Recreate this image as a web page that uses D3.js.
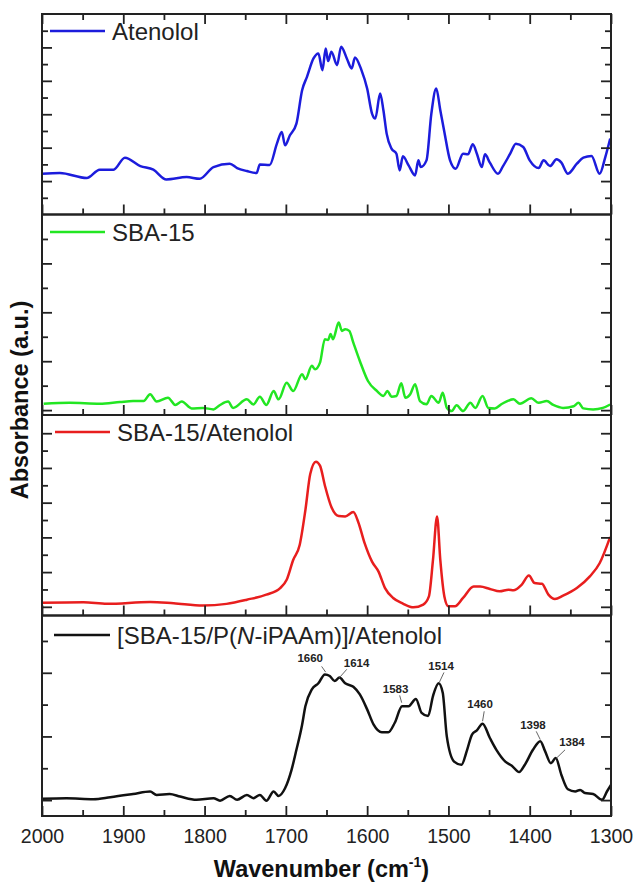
<!DOCTYPE html>
<html>
<head>
<meta charset="utf-8">
<script src="https://cdn.jsdelivr.net/npm/d3@7"></script>
<style>
  body { margin: 0; background: #fff; }
  svg { display: block; font-family: "Liberation Sans", Arial, sans-serif; }
</style>
</head>
<body>
<svg id="chart" width="634" height="883"></svg>
<script>
// spectra: [wavenumber (cm-1), absorbance in panel tick units]
const atenolol = [
  [2000, 2.44], [1978, 2.48], [1945, 2.18], [1929, 2.68], [1912, 2.68], [1898, 3.4],
  [1879, 2.9], [1863, 2.68], [1847, 2.1], [1822, 2.24], [1806, 2.14], [1789, 2.84],
  [1769, 3.04], [1760, 2.78], [1748, 2.6], [1736, 2.48], [1732, 3.0], [1720, 2.96],
  [1711, 4.24], [1705, 4.94], [1701, 4.14], [1695, 4.74], [1687, 5.44], [1680, 7.44],
  [1674, 8.24], [1666, 9.34], [1660, 9.64], [1655, 8.64], [1651, 9.94], [1648, 9.18],
  [1644, 9.74], [1637, 8.94], [1632, 10.04], [1625, 9.34], [1619, 8.74], [1615, 9.4],
  [1607, 8.64], [1600, 7.54], [1594, 6.04], [1590, 5.74], [1584, 7.24], [1580, 6.24],
  [1576, 4.84], [1570, 3.94], [1564, 3.64], [1560, 2.64], [1556, 3.48], [1549, 2.94],
  [1541, 2.34], [1537, 3.24], [1534, 2.84], [1527, 3.24], [1521, 6.04], [1515, 7.54],
  [1510, 6.24], [1505, 4.94], [1498, 3.24], [1491, 2.74], [1482, 3.64], [1476, 3.6],
  [1470, 4.2], [1465, 3.64], [1459, 2.84], [1455, 3.6], [1449, 3.1], [1439, 2.44],
  [1433, 2.88], [1424, 3.64], [1417, 4.24], [1408, 4.04], [1400, 3.24], [1389, 2.78],
  [1383, 3.24], [1375, 2.9], [1367, 3.3], [1361, 3.1], [1353, 2.44], [1342, 3.04],
  [1334, 3.4], [1324, 3.5], [1314, 2.44], [1307, 3.44], [1301, 4.54]
];

const sba15 = [
  [1998, 0.26], [1966, 0.3], [1929, 0.26], [1904, 0.33], [1888, 0.37], [1875, 0.37],
  [1867, 0.65], [1859, 0.35], [1845, 0.51], [1836, 0.21], [1828, 0.35], [1816, 0.07],
  [1802, 0.09], [1789, 0.03], [1781, 0.21], [1771, 0.35], [1765, 0.09], [1748, 0.44],
  [1740, 0.23], [1732, 0.55], [1724, 0.21], [1715, 0.78], [1709, 0.44], [1699, 1.12],
  [1691, 0.78], [1680, 1.47], [1676, 1.26], [1668, 1.81], [1664, 1.67], [1658, 1.94],
  [1652, 2.9], [1648, 2.87], [1645, 3.11], [1642, 2.9], [1635, 3.58], [1631, 3.24],
  [1627, 3.31], [1622, 3.24], [1617, 2.76], [1609, 2.01], [1599, 1.19], [1588, 0.78],
  [1580, 0.58], [1575, 0.78], [1570, 0.55], [1564, 0.58], [1558, 1.1], [1553, 0.51],
  [1547, 0.65], [1541, 1.06], [1535, 0.37], [1527, 0.24], [1521, 0.58], [1512, 0.3],
  [1507, 0.71], [1502, 0.1], [1496, -0.04], [1490, 0.2], [1482, -0.04], [1473, 0.3],
  [1467, 0.09], [1458, 0.58], [1451, 0.09], [1443, 0.07], [1434, 0.26], [1420, 0.44],
  [1412, 0.26], [1398, 0.48], [1389, 0.3], [1379, 0.37], [1371, 0.21], [1359, 0.09],
  [1346, 0.16], [1340, 0.3], [1334, 0.07], [1322, 0.03], [1310, 0.09], [1301, 0.23]
];

const sbaAtenolol = [
  [2000, 0.23], [1949, 0.26], [1920, 0.17], [1867, 0.28], [1838, 0.2], [1802, 0.07],
  [1773, 0.17], [1748, 0.41], [1724, 0.7], [1707, 1.08], [1699, 1.56], [1691, 2.7],
  [1683, 3.56], [1676, 5.56], [1670, 7.65], [1663, 8.36], [1658, 8.13], [1652, 6.99],
  [1644, 5.75], [1635, 5.23], [1627, 5.21], [1617, 5.46], [1611, 4.89], [1603, 3.65],
  [1594, 2.6], [1586, 2.03], [1578, 1.08], [1568, 0.51], [1556, 0.19], [1543, -0.03],
  [1531, 0.13], [1524, 0.6], [1519, 2.7], [1514, 5.21], [1510, 2.7], [1505, 0.6],
  [1500, 0.03], [1492, 0.03], [1482, 0.51], [1469, 1.17], [1461, 1.17], [1449, 1.03],
  [1437, 0.89], [1426, 0.99], [1420, 0.95], [1410, 1.27], [1401, 1.8], [1394, 1.37],
  [1385, 1.33], [1377, 0.7], [1369, 0.45], [1359, 0.64], [1342, 1.08], [1326, 1.75],
  [1314, 2.51], [1301, 4.03]
];

const sbaPolyAtenolol = [
  [2000, 0.04], [1970, 0.06], [1937, 0.03], [1916, 0.09], [1888, 0.19], [1867, 0.27],
  [1859, 0.16], [1843, 0.19], [1830, 0.11], [1810, 0.01], [1789, 0.06], [1781, -0.02],
  [1769, 0.13], [1760, 0.01], [1748, 0.16], [1740, 0.06], [1732, 0.16], [1724, -0.02],
  [1715, 0.27], [1709, 0.13], [1701, 0.37], [1693, 0.95], [1687, 1.58], [1680, 2.37],
  [1676, 2.95], [1668, 3.48], [1660, 3.67], [1652, 3.95], [1646, 3.9], [1640, 3.74],
  [1634, 3.85], [1627, 3.67], [1617, 3.56], [1609, 3.32], [1600, 2.85], [1592, 2.37],
  [1582, 2.13], [1574, 2.13], [1566, 2.43], [1557, 2.95], [1549, 2.95], [1540, 3.18],
  [1533, 2.74], [1525, 2.64], [1519, 3.27], [1512, 3.67], [1507, 3.37], [1502, 2.0],
  [1493, 1.21], [1484, 1.11], [1477, 1.58], [1471, 2.06], [1465, 2.19], [1458, 2.4],
  [1449, 1.95], [1441, 1.58], [1430, 1.21], [1422, 1.08], [1413, 0.88], [1406, 1.11],
  [1396, 1.58], [1387, 1.85], [1381, 1.53], [1374, 1.16], [1368, 1.32], [1361, 0.79],
  [1353, 0.34], [1344, 0.27], [1338, 0.32], [1332, 0.22], [1322, 0.19], [1311, 0.01],
  [1305, 0.27], [1300, 0.48]
];

const seriesNames = ["Atenolol", "SBA-15", "SBA-15/Atenolol", "[SBA-15/P(N-iPAAm)]/Atenolol"];
const seriesColors = ["#1c1cdc", "#22e622", "#e81e1e", "#111111"];

const xTicks = [2000, 1900, 1800, 1700, 1600, 1500, 1400, 1300];
const xMinorTicks = [1950, 1850, 1750, 1650, 1550, 1450, 1350];

// each panel has its own arbitrary absorbance scale
const yDomains = [[0, 12], [-0.2, 8], [-0.5, 11.05], [-0.5, 5.8]];
const yMajorTicks = [[2, 4, 6, 8, 10], [0, 2, 4, 6], [0, 2, 4, 6, 8, 10], [0, 2, 4]];
const yMinorTicks = [[1, 3, 5, 7, 9, 11], [1, 3, 5, 7], [1, 3, 5, 7, 9], [1, 3, 5]];

// peak labels in the bottom panel: text anchor and leader line, in data units
const peakLabels = ["1660", "1614", "1583", "1514", "1460", "1398", "1384"];
const peakLabelAt = [[1670, 4.33], [1613, 4.17], [1565, 3.35], [1509, 4.09], [1461, 2.88], [1396, 2.22], [1348, 1.69]];
const peakLeaders = [
  [[1656, 4.2], [1651, 4.02]],
  [[1625, 4.11], [1634, 3.85]],
  [[1560, 3.29], [1557.5, 3.06]],
  [[1505.5, 4.01], [1511, 3.71]],
  [[1456, 2.79], [1458, 2.48]],
  [[1392, 2.16], [1387, 1.9]],
  [[1356.5, 1.58], [1367, 1.32]]
];

const allSeries = [atenolol, sba15, sbaAtenolol, sbaPolyAtenolol];

const plotLeft = 42;
const plotRight = 611;
const plotTop = 14;
const panelH = 200.5;
const legendLine = [[50, 105, 17, 112], [50, 105, 17.5, 112], [55, 110, 17, 117], [54, 110, 19.5, 117]];

const svg = d3.select("#chart");

const x = d3.scaleLinear().domain([2000, 1300]).range([plotLeft, plotRight]);

const line = (y) =>
  d3
    .line()
    .curve(d3.curveMonotoneX)
    .x((d) => x(d[0]))
    .y((d) => y(d[1]));

svg
  .append("defs")
  .append("clipPath")
  .attr("id", "plot-clip")
  .append("rect")
  .attr("x", plotLeft)
  .attr("y", plotTop)
  .attr("width", plotRight - plotLeft)
  .attr("height", panelH * 4);

allSeries.forEach((data, i) => {
  const y0 = plotTop + i * panelH;
  const y1 = y0 + panelH;
  const y = d3.scaleLinear().domain(yDomains[i]).range([y1, y0]);
  const g = svg.append("g").attr("class", "panel");

  g.append("path")
    .datum(data)
    .attr("clip-path", "url(#plot-clip)")
    .attr("fill", "none")
    .attr("stroke", seriesColors[i])
    .attr("stroke-width", 2.5)
    .attr("stroke-linejoin", "round")
    .attr("d", line(y));

  // ticks all point inward
  const axes = [
    [d3.axisLeft(y), `translate(${plotLeft},0)`, yMajorTicks[i], -10],
    [d3.axisLeft(y), `translate(${plotLeft},0)`, yMinorTicks[i], -6],
    [d3.axisRight(y), `translate(${plotRight},0)`, yMajorTicks[i], -10],
    [d3.axisRight(y), `translate(${plotRight},0)`, yMinorTicks[i], -6],
    [d3.axisBottom(x), `translate(0,${y1})`, xTicks, -10],
    [d3.axisBottom(x), `translate(0,${y1})`, xMinorTicks, -6]
  ];
  if (i === 0) {
    axes.push([d3.axisTop(x), `translate(0,${y0})`, xTicks, -10]);
    axes.push([d3.axisTop(x), `translate(0,${y0})`, xMinorTicks, -6]);
  }
  axes.forEach(([axis, tr, values, size]) => {
    g.append("g")
      .attr("transform", tr)
      .call(axis.tickValues(values).tickSize(size).tickFormat(""))
      .call((a) => a.select(".domain").remove())
      .call((a) => a.selectAll(".tick line").attr("stroke", "#222").attr("stroke-width", 1.8));
  });

  g.append("rect")
    .attr("x", plotLeft)
    .attr("y", y0)
    .attr("width", plotRight - plotLeft)
    .attr("height", panelH)
    .attr("fill", "none")
    .attr("stroke", "#222")
    .attr("stroke-width", 2);

  // legend
  const [lx0, lx1, ly, tx] = legendLine[i];
  g.append("line")
    .attr("x1", lx0)
    .attr("x2", lx1)
    .attr("y1", y0 + ly)
    .attr("y2", y0 + ly)
    .attr("stroke", seriesColors[i])
    .attr("stroke-width", 2.5);

  const label = g
    .append("text")
    .attr("x", tx)
    .attr("y", y0 + ly + 8.5)
    .attr("font-size", 24)
    .attr("fill", "#222");

  if (i === 3) {
    label.append("tspan").text("[SBA-15/P(");
    label.append("tspan").attr("font-style", "italic").text("N");
    label.append("tspan").text("-iPAAm)]/Atenolol");
  } else {
    label.text(seriesNames[i]);
  }

  if (i === 3) {
    const ann = g.append("g").attr("class", "peaks");
    peakLeaders.forEach(([a, b]) => {
      ann
        .append("line")
        .attr("x1", x(a[0]))
        .attr("y1", y(a[1]))
        .attr("x2", x(b[0]))
        .attr("y2", y(b[1]))
        .attr("stroke", "#666")
        .attr("stroke-width", 1);
    });
    ann
      .selectAll("text")
      .data(peakLabels)
      .enter()
      .append("text")
      .attr("x", (d, k) => x(peakLabelAt[k][0]))
      .attr("y", (d, k) => y(peakLabelAt[k][1]))
      .attr("text-anchor", "middle")
      .attr("font-size", 11.5)
      .attr("font-weight", "bold")
      .attr("fill", "#222")
      .text((d) => d);
  }
});

// x tick labels under the bottom panel
const plotBottom = plotTop + panelH * 4;
svg
  .append("g")
  .attr("transform", `translate(0,${plotBottom})`)
  .call(d3.axisBottom(x).tickValues(xTicks).tickSize(0).tickPadding(13).tickFormat(d3.format("d")))
  .call((a) => a.select(".domain").remove())
  .call((a) =>
    a
      .selectAll("text")
      .attr("font-family", "Liberation Sans, Arial, sans-serif")
      .attr("font-size", 19.5)
      .attr("fill", "#222")
  );

const xTitle = svg
  .append("text")
  .attr("x", (plotLeft + plotRight) / 2 - 5)
  .attr("y", 877)
  .attr("text-anchor", "middle")
  .attr("font-size", 23.5)
  .attr("font-weight", "bold")
  .attr("fill", "#111");
xTitle.append("tspan").text("Wavenumber (cm");
xTitle.append("tspan").attr("font-size", 14).attr("dy", -10).text("-1");
xTitle.append("tspan").attr("dy", 10).text(")");

svg
  .append("text")
  .attr("transform", "translate(28,400) rotate(-90)")
  .attr("text-anchor", "middle")
  .attr("font-size", 23.5)
  .attr("font-weight", "bold")
  .attr("fill", "#111")
  .text("Absorbance (a.u.)");
</script>
</body>
</html>
